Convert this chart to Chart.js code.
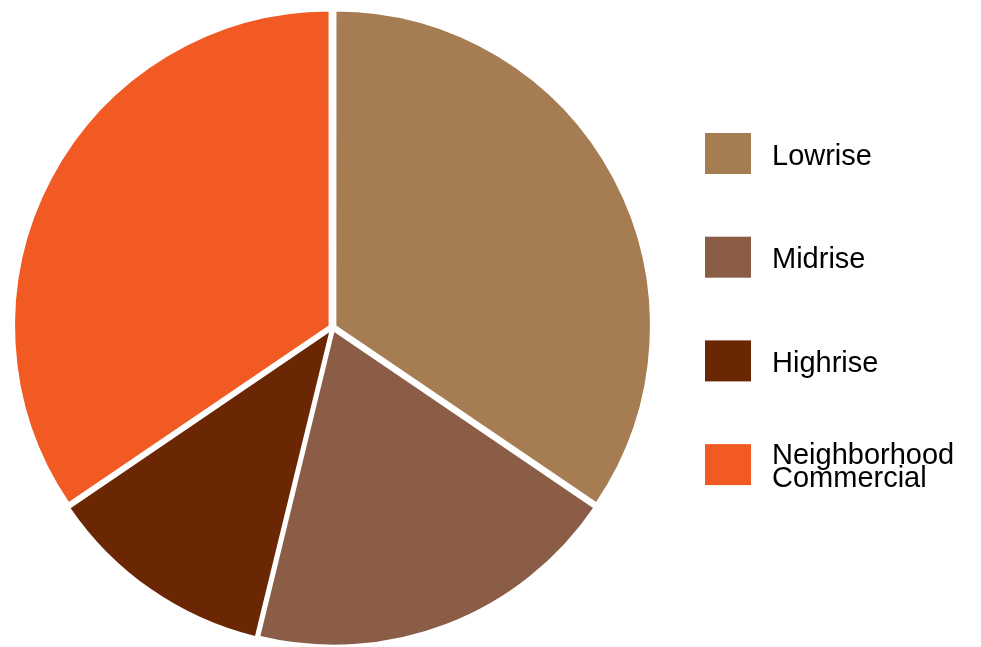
<!DOCTYPE html>
<html>
<head>
<meta charset="utf-8">
<script src="https://cdn.jsdelivr.net/npm/chart.js@4/dist/chart.umd.min.js"></script>
<style>
  html, body { margin: 0; padding: 0; background: #ffffff; }
  #wrap { position: relative; width: 981px; height: 647px; }
</style>
</head>
<body>
<div id="wrap"><canvas id="chart" width="981" height="647"></canvas></div>
<script>
// Building type shares (percent of total)
const categories = ['Lowrise', 'Midrise', 'Highrise', ['Neighborhood', 'Commercial']];
const shares = [34.5, 19.3, 11.7, 34.5];
const sliceColors = ['#A67C52', '#8B5D46', '#6B2603', '#F25A23'];

// Legend drawn to the right of the pie: colour box plus (possibly multi-line) label
const sideLegend = {
  id: 'sideLegend',
  afterDraw(chart) {
    const ctx = chart.ctx;
    const labels = chart.data.labels;
    const colors = chart.data.datasets[0].backgroundColor;
    const boxX = 705, boxW = 46, boxH = 41, firstTop = 133, step = 103.7;
    const textX = 772, lineH = 22.5;
    ctx.save();
    ctx.font = '29px "Liberation Sans", Arial, sans-serif';
    ctx.textAlign = 'left';
    ctx.textBaseline = 'alphabetic';
    labels.forEach((lab, i) => {
      const top = firstTop + i * step;
      ctx.fillStyle = colors[i];
      ctx.fillRect(boxX, top, boxW, boxH);
      const lines = Array.isArray(lab) ? lab : [lab];
      const mid = top + boxH / 2;
      const firstBase = mid + 11 - (lines.length - 1) * lineH / 2;
      ctx.fillStyle = '#000000';
      lines.forEach((ln, j) => ctx.fillText(ln, textX, firstBase + j * lineH));
    });
    ctx.restore();
  }
};

new Chart(document.getElementById('chart'), {
  type: 'pie',
  data: {
    labels: categories,
    datasets: [{
      data: shares,
      backgroundColor: sliceColors,
      borderColor: '#ffffff',
      borderWidth: 2,
      offset: 13,
      hoverOffset: 13
    }]
  },
  options: {
    responsive: false,
    animation: false,
    radius: 315,
    layout: { padding: { left: 0, right: 316, top: 8, bottom: 0 } },
    plugins: {
      legend: { display: false },
      tooltip: { enabled: false }
    }
  },
  plugins: [sideLegend]
});
</script>
</body>
</html>
